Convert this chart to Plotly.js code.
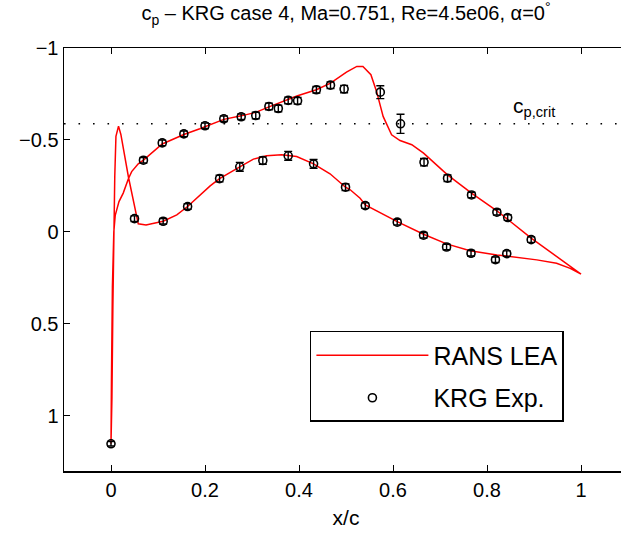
<!DOCTYPE html>
<html>
<head>
<meta charset="utf-8">
<script src="https://cdn.plot.ly/plotly-3.0.1.min.js"></script>
<style>
  html, body { margin: 0; padding: 0; overflow: hidden; background: #fff; }
  #chart { width: 640px; height: 539px; }
</style>
</head>
<body>
<div id="chart"></div>
<script>
// RANS LEA computed pressure distribution (TE -> lower surface -> LE -> upper surface -> TE)
const ransX = [1.0, 0.977, 0.948, 0.906, 0.842, 0.821, 0.764, 0.714, 0.665, 0.609, 0.541, 0.530, 0.509, 0.499,
  0.466, 0.431, 0.395, 0.363, 0.331, 0.303, 0.274, 0.231, 0.211, 0.189, 0.163, 0.140, 0.111, 0.0745, 0.058,
  0.037, 0.021, 0.016, 0.0105, 0.008, 0.006, 0.004, 0.002, 0.0,
  0.001, 0.003, 0.006, 0.009, 0.017, 0.026, 0.037, 0.044, 0.058, 0.069, 0.109, 0.155, 0.189, 0.240, 0.277,
  0.308, 0.336, 0.367, 0.397, 0.437, 0.467, 0.501, 0.523, 0.536, 0.553, 0.565, 0.579, 0.597, 0.615, 0.640,
  0.665, 0.716, 0.767, 0.821, 0.894, 1.0];
const ransCp = [0.229, 0.198, 0.170, 0.152, 0.131, 0.125, 0.102, 0.065, 0.013, -0.056, -0.147, -0.183, -0.229, -0.243,
  -0.316, -0.370, -0.410, -0.419, -0.414, -0.396, -0.354, -0.290, -0.250, -0.201, -0.138, -0.093, -0.058, -0.038, -0.044,
  -0.300, -0.530, -0.575, -0.520, -0.300, 0.0, 0.400, 0.900, 1.152,
  0.800, 0.300, 0.0, -0.090, -0.165, -0.211, -0.289, -0.328, -0.370, -0.390, -0.478, -0.530, -0.561, -0.612, -0.631,
  -0.650, -0.680, -0.709, -0.740, -0.773, -0.809, -0.869, -0.900, -0.900, -0.855, -0.764, -0.628, -0.528, -0.497, -0.474,
  -0.428, -0.310, -0.211, -0.115, 0.034, 0.229];

// KRG experiment, upper surface
const expUpperX = [0.069, 0.109, 0.155, 0.200, 0.240, 0.277, 0.308, 0.336, 0.356, 0.377, 0.397, 0.437, 0.467, 0.496,
  0.573, 0.616, 0.666, 0.716, 0.767, 0.821, 0.844, 0.894];
const expUpperCp = [-0.390, -0.484, -0.533, -0.577, -0.615, -0.626, -0.633, -0.682, -0.671, -0.715, -0.713, -0.773, -0.798, -0.777,
  -0.760, -0.588, -0.379, -0.292, -0.201, -0.107, -0.078, 0.042];
const expUpperErr = [0.015, 0.015, 0.015, 0.015, 0.015, 0.015, 0.018, 0.018, 0.018, 0.018, 0.018, 0.018, 0.018, 0.02,
  0.035, 0.052, 0.02, 0.018, 0.015, 0.015, 0.015, 0.015];
// KRG experiment, lower surface
const expLowerX = [0.0, 0.050, 0.111, 0.163, 0.231, 0.274, 0.323, 0.377, 0.431, 0.499, 0.541, 0.609, 0.665, 0.714,
  0.766, 0.818, 0.842];
const expLowerCp = [1.152, -0.072, -0.058, -0.138, -0.290, -0.354, -0.388, -0.414, -0.370, -0.243, -0.143, -0.053, 0.018, 0.082,
  0.116, 0.151, 0.118];
const expLowerErr = [0.012, 0.015, 0.015, 0.015, 0.018, 0.024, 0.02, 0.024, 0.024, 0.018, 0.015, 0.015, 0.015, 0.015,
  0.015, 0.015, 0.015];

const cpCrit = -0.588;
const xRange = [-0.1, 1.1];
const yRange = [1.3, -1];
const xTicks = [0, 0.2, 0.4, 0.6, 0.8, 1];
const xTickText = ['0', '0.2', '0.4', '0.6', '0.8', '1'];
const yTicks = [-1, -0.5, 0, 0.5, 1];
const yTickText = ['\u22121', '\u22120.5', '0', '0.5', '1'];

const font = 'Liberation Sans, Arial, Helvetica, sans-serif';

const traces = [
  {
    x: xRange, y: [cpCrit, cpCrit], mode: 'lines', showlegend: false, hoverinfo: 'skip',
    line: { color: '#000', width: 1.6, dash: '1.6px,12.9px' }
  },
  {
    name: 'RANS LEA', x: ransX, y: ransCp, mode: 'lines', legendgroup: 'a',
    line: { color: '#ff0000', width: 1.5 }
  },
  {
    name: 'KRG Exp.', legendgroup: 'b',
    x: expUpperX.concat(expLowerX), y: expUpperCp.concat(expLowerCp), mode: 'markers',
    marker: { symbol: 'circle-open', size: 8, color: '#000', line: { width: 1.6, color: '#000' } },
    error_y: { type: 'data', array: expUpperErr.concat(expLowerErr), visible: true, color: '#000', thickness: 1.4, width: 4 }
  }
];

const layout = {
  width: 640, height: 539,
  margin: { l: 64, r: 12, t: 48, b: 68 },
  paper_bgcolor: '#fff', plot_bgcolor: '#fff',
  font: { family: font, color: '#000', size: 20 },
  showlegend: true,
  title: {
    text: 'c<sub>p</sub> \u2013 KRG case 4, Ma=0.751, Re=4.5e06, \u03b1=0<sup>\u00b0</sup>',
    font: { family: font, size: 20, color: '#000' },
    x: 0.5, xref: 'paper', xanchor: 'center', y: 0.975, yref: 'container', yanchor: 'middle'
  },
  xaxis: {
    range: xRange, tickvals: xTicks, ticktext: xTickText,
    showgrid: false, zeroline: false, showline: true, linecolor: '#000', linewidth: 1.5,
    mirror: 'ticks', ticks: 'inside', ticklen: 6, tickwidth: 1, tickcolor: '#000',
    tickfont: { size: 20 },
    title: { text: 'x/c', font: { size: 21 }, standoff: 11 }
  },
  yaxis: {
    range: yRange, tickvals: yTicks, ticktext: yTickText,
    showgrid: false, zeroline: false, showline: true, linecolor: '#000', linewidth: 1.5,
    mirror: 'ticks', ticks: 'inside', ticklen: 6, tickwidth: 1, tickcolor: '#000',
    tickfont: { size: 20 }
  },
  legend: {
    x: 0.436, y: 0.331, xanchor: 'left', yanchor: 'top',
    bordercolor: '#000', borderwidth: 1.5, bgcolor: '#fff',
    font: { size: 25 }, itemwidth: 112, tracegroupgap: 7
  },
  annotations: [
    {
      x: 0.851, y: cpCrit, xref: 'x', yref: 'y', xanchor: 'left', yanchor: 'bottom', yshift: 2,
      text: 'c<sub>p,crit</sub>', showarrow: false, font: { size: 21, color: '#000' }
    }
  ]
};

Plotly.newPlot('chart', traces, layout, { displayModeBar: false, staticPlot: true });
</script>
</body>
</html>
